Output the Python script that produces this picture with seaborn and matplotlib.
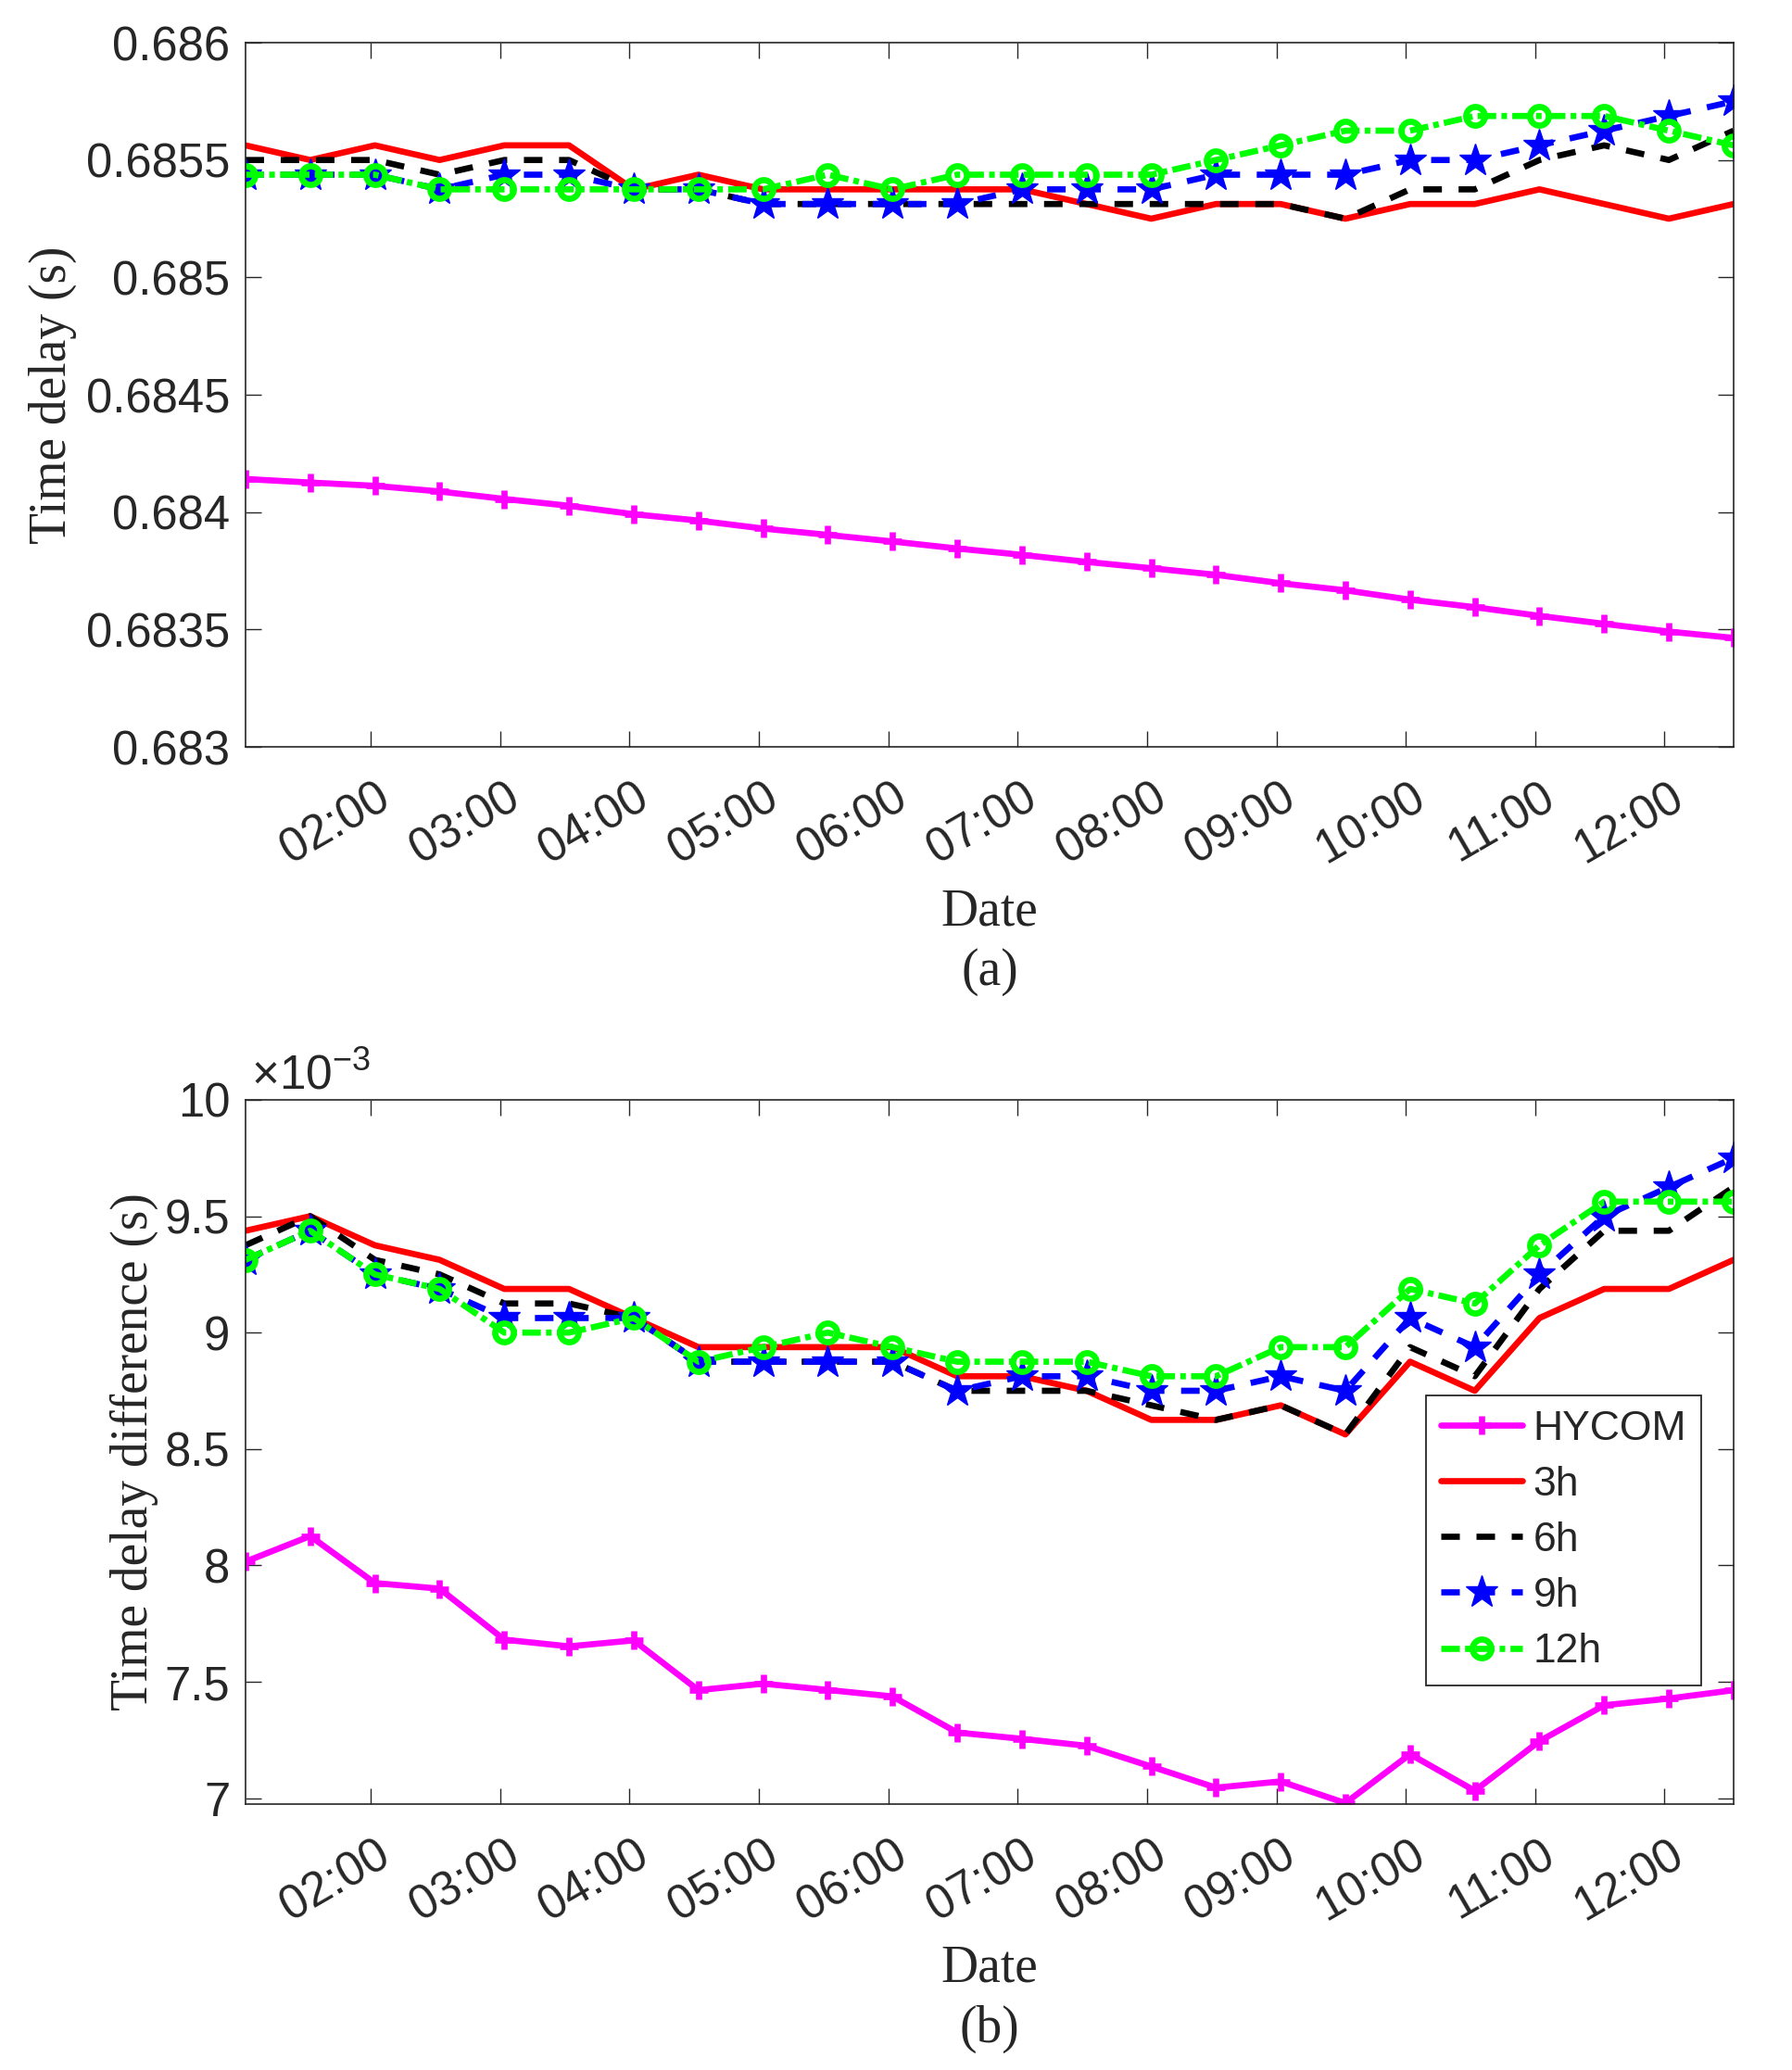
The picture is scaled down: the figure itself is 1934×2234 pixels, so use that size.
import matplotlib

matplotlib.use("Agg")
import matplotlib.pyplot as plt
import seaborn as sns
from matplotlib.ticker import FuncFormatter
from matplotlib.transforms import ScaledTranslation

# sample times (hh:mm), one every half hour
times = [
    "01:02", "01:32", "02:02", "02:32", "03:02", "03:32", "04:02", "04:32",
    "05:02", "05:32", "06:02", "06:32", "07:02", "07:32", "08:02", "08:32",
    "09:02", "09:32", "10:02", "10:32", "11:02", "11:32", "12:02", "12:32",
]
tick_hours = [2, 3, 4, 5, 6, 7, 8, 9, 10, 11, 12]
tick_labels = ["02:00", "03:00", "04:00", "05:00", "06:00", "07:00",
               "08:00", "09:00", "10:00", "11:00", "12:00"]
series_names = ["HYCOM", "3h", "6h", "9h", "12h"]

# (a) time delay, s
delay_hycom = [0.684141, 0.684126, 0.684112, 0.684088, 0.684056, 0.684027,
               0.683991, 0.683964, 0.683930, 0.683903, 0.683875, 0.683845,
               0.683818, 0.683788, 0.683761, 0.683733, 0.683697, 0.683667,
               0.683627, 0.683595, 0.683558, 0.683524, 0.683491, 0.683464]
delay_3h = [0.6855625, 0.6855, 0.6855625, 0.6855, 0.6855625, 0.6855625,
            0.685375, 0.6854375, 0.685375, 0.685375, 0.685375, 0.685375,
            0.685375, 0.6853125, 0.68525, 0.6853125, 0.6853125, 0.68525,
            0.6853125, 0.6853125, 0.685375, 0.6853125, 0.68525, 0.6853125]
delay_6h = [0.6855, 0.6855, 0.6855, 0.6854375, 0.6855, 0.6855,
            0.685375, 0.685375, 0.6853125, 0.6853125, 0.6853125, 0.6853125,
            0.6853125, 0.6853125, 0.6853125, 0.6853125, 0.6853125, 0.68525,
            0.685375, 0.685375, 0.6855, 0.6855625, 0.6855, 0.685625]
delay_9h = [0.6854375, 0.6854375, 0.6854375, 0.685375, 0.6854375, 0.6854375,
            0.685375, 0.685375, 0.6853125, 0.6853125, 0.6853125, 0.6853125,
            0.685375, 0.685375, 0.685375, 0.6854375, 0.6854375, 0.6854375,
            0.6855, 0.6855, 0.6855625, 0.685625, 0.6856875, 0.68575]
delay_12h = [0.6854375, 0.6854375, 0.6854375, 0.685375, 0.685375, 0.685375,
             0.685375, 0.685375, 0.685375, 0.6854375, 0.685375, 0.6854375,
             0.6854375, 0.6854375, 0.6854375, 0.6855, 0.6855625, 0.685625,
             0.685625, 0.6856875, 0.6856875, 0.6856875, 0.685625, 0.6855625]

# (b) time delay difference, x 1e-3 s
diff_hycom = [8.016, 8.126, 7.924, 7.900, 7.681, 7.652, 7.678, 7.464,
              7.492, 7.465, 7.437, 7.282, 7.255, 7.225, 7.136, 7.045,
              7.072, 6.979, 7.189, 7.032, 7.245, 7.399, 7.428, 7.464]
diff_3h = [9.4375, 9.5, 9.375, 9.3125, 9.1875, 9.1875, 9.0625, 8.9375,
           8.9375, 8.9375, 8.9375, 8.8125, 8.8125, 8.75, 8.625, 8.625,
           8.6875, 8.5625, 8.875, 8.75, 9.0625, 9.1875, 9.1875, 9.3125]
diff_6h = [9.375, 9.5, 9.3125, 9.25, 9.125, 9.125, 9.0625, 8.875,
           8.875, 8.875, 8.875, 8.75, 8.75, 8.75, 8.6875, 8.625,
           8.6875, 8.5625, 8.9375, 8.8125, 9.1875, 9.4375, 9.4375, 9.625]
diff_9h = [9.3125, 9.4375, 9.25, 9.1875, 9.0625, 9.0625, 9.0625, 8.875,
           8.875, 8.875, 8.875, 8.75, 8.8125, 8.8125, 8.75, 8.75,
           8.8125, 8.75, 9.0625, 8.9375, 9.25, 9.5, 9.625, 9.75]
diff_12h = [9.3125, 9.4375, 9.25, 9.1875, 9.0, 9.0, 9.0625, 8.875,
            8.9375, 9.0, 8.9375, 8.875, 8.875, 8.875, 8.8125, 8.8125,
            8.9375, 8.9375, 9.1875, 9.125, 9.375, 9.5625, 9.5625, 9.5625]

hours = [int(t[:2]) + int(t[3:]) / 60 for t in times]

LW = 4.8
styles = {
    "HYCOM": dict(color=(1, 0, 1), linestyle="-", marker="+", markersize=15,
                  markeredgewidth=LW, markeredgecolor=(1, 0, 1)),
    "3h": dict(color=(1, 0, 0), linestyle="-"),
    "6h": dict(color="k", linestyle=(0, (3.0, 2.7))),
    "9h": dict(color=(0, 0, 1), linestyle=(0, (3.0, 2.7)), marker="*",
               markersize=26, markerfacecolor=(0, 0, 1),
               markeredgecolor=(0, 0, 1), markeredgewidth=1),
    "12h": dict(color=(0, 1, 0), linestyle=(0, (3.0, 0.85, 0.9, 0.85)),
                marker="o", markersize=14.5, markerfacecolor="none",
                markeredgecolor=(0, 1, 0), markeredgewidth=LW),
}

sns.set_style("ticks")
plt.rcParams["font.family"] = ["Liberation Sans", "DejaVu Sans"]
plt.rcParams["mathtext.fontset"] = "custom"
plt.rcParams["mathtext.rm"] = "Liberation Sans"
SERIF = ["Liberation Serif", "DejaVu Serif"]
DARK = "0.15"

fig = plt.figure(figsize=(19.34, 22.34), dpi=100)
ax_a = fig.add_axes([0.1370, 0.6392, 0.8304, 0.3402])
ax_b = fig.add_axes([0.1370, 0.1285, 0.8304, 0.3402])

panels = [
    (ax_a, [delay_hycom, delay_3h, delay_6h, delay_9h, delay_12h]),
    (ax_b, [diff_hycom, diff_3h, diff_6h, diff_9h, diff_12h]),
]
for ax, values in panels:
    for name, y in zip(series_names, values):
        sns.lineplot(x=hours, y=y, ax=ax, label=name, legend=False,
                     estimator=None, errorbar=None, linewidth=LW,
                     dash_capstyle="butt", **styles[name])

ax_a.set_ylim(0.683, 0.686)
ax_a.set_yticks([0.683, 0.6835, 0.684, 0.6845, 0.685, 0.6855, 0.686])
ax_b.set_ylim(6.975, 10)
ax_b.set_yticks([7, 7.5, 8, 8.5, 9, 9.5, 10])

shift = ScaledTranslation(0.17, 0, fig.dpi_scale_trans)
for ax in (ax_a, ax_b):
    ax.set_xlim(hours[0], hours[-1])
    ax.set_xticks(tick_hours)
    ax.set_xticklabels(tick_labels, rotation=30, ha="right", va="center",
                       rotation_mode="anchor")
    ax.yaxis.set_major_formatter(FuncFormatter(lambda v, p: f"{v:g}"))
    ax.tick_params(direction="in", length=12, width=1.0, top=True,
                   right=True, labelsize=36.5, colors=DARK)
    ax.tick_params(axis="x", pad=37)
    ax.tick_params(axis="y", pad=12)
    # MATLAB puts the rotated labels a little to the right of the tick
    for lab in ax.get_xticklabels():
        lab.set_transform(lab.get_transform() + shift)
    for sp in ax.spines.values():
        sp.set_visible(True)
        sp.set_linewidth(1.2)
        sp.set_color(DARK)
    ax.set_xlabel("Date", fontsize=40, fontfamily=SERIF, color=DARK)
    ax.xaxis.set_label_coords(0.5, -0.2526)
    ax.xaxis.label.set_va("baseline")

ax_a.set_ylabel("Time delay (s)", fontsize=40, fontfamily=SERIF, color=DARK)
ax_a.yaxis.set_label_coords(-0.1133, 0.5)
ax_b.set_ylabel("Time delay difference (s)", fontsize=40, fontfamily=SERIF,
                color=DARK)
ax_b.yaxis.set_label_coords(-0.0586, 0.5)

ax_a.text(0.5, -0.3382, "(a)", transform=ax_a.transAxes, ha="center",
          va="baseline", fontsize=40, fontfamily=SERIF, color=DARK)
ax_b.text(0.5, -0.3382, "(b)", transform=ax_b.transAxes, ha="center",
          va="baseline", fontsize=40, fontfamily=SERIF, color=DARK)
ax_b.text(0.0037, 1.0158, "×10$^{\\mathregular{-3}}$", transform=ax_b.transAxes,
          ha="left", va="baseline", fontsize=37, color=DARK)

leg = ax_b.legend(loc="upper right", bbox_to_anchor=(0.978, 0.580),
                  fontsize=32, frameon=True, fancybox=False, framealpha=1,
                  edgecolor=DARK, borderpad=0.35, borderaxespad=0,
                  handlelength=2.0, handletextpad=0.25, labelspacing=0.43)
leg.get_frame().set_linewidth(1.3)

fig.savefig("out.png", dpi=100, facecolor="white")
